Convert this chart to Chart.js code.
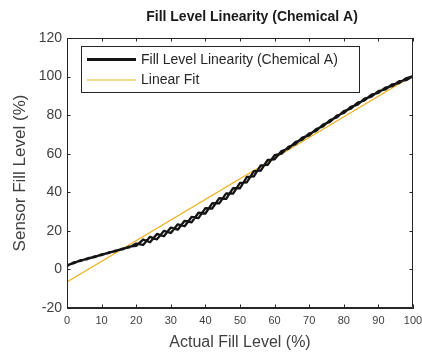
<!DOCTYPE html>
<html>
<head>
<meta charset="utf-8">
<script src="https://cdn.jsdelivr.net/npm/chart.js@4.4.0/dist/chart.umd.min.js"></script>
<style>
  html, body { margin: 0; padding: 0; background: #fff; }
</style>
</head>
<body>
<canvas id="chart" width="422" height="354"></canvas>
<script>
// actual fill level (%) at each sample
const fillLevels = [0, 2, 4, 6, 8, 10, 12, 14, 16, 18, 20, 22, 24, 26, 28, 30, 32, 34, 36, 38, 40,
  42, 44, 46, 48, 50, 52, 54, 56, 58, 60, 62, 64, 66, 68, 70, 72, 74, 76, 78, 80,
  82, 84, 86, 88, 90, 92, 94, 96, 98, 100];
// sensor reading while filling (up sweep)
const sensorFilling = [2.2, 3.3, 4.8, 5.4, 6.8, 7.4, 8.8, 9.4, 10.8, 11.4, 13.4, 12.7, 16.9, 15.6, 20.0, 18.9, 23.4, 22.4, 27.2, 26.6, 31.8,
  31.6, 37.0, 36.6, 42.1, 42.1, 48.0, 48.2, 54.0, 54.2, 59.3, 60.0, 63.6, 65.0, 68.3, 69.5, 72.8, 74.1, 77.5, 78.8, 82.1,
  83.3, 86.5, 87.6, 90.6, 91.5, 94.3, 95.0, 97.6, 98.1, 100.2];
// sensor reading while draining (down sweep)
const sensorDraining = [1.8, 3.7, 4.4, 5.8, 6.4, 7.8, 8.4, 9.8, 10.4, 11.8, 12.2, 15.5, 14.1, 18.4, 17.2, 21.7, 20.6, 25.2, 24.4, 29.4, 29.0,
  34.4, 34.2, 39.4, 39.3, 44.9, 45.2, 51.0, 51.2, 56.8, 57.1, 61.4, 62.6, 66.0, 67.3, 70.5, 71.8, 75.1, 76.5, 79.8, 81.1,
  84.3, 85.5, 88.6, 89.6, 92.5, 93.3, 96.0, 96.6, 99.1, 100.2];
const fitX = [0, 100];
const fitY = [-6.5, 100.5];
const xTicks = [0, 10, 20, 30, 40, 50, 60, 70, 80, 90, 100];
const yTicks = [-20, 0, 20, 40, 60, 80, 100, 120];

const FONT = '"Liberation Sans", Arial, sans-serif';
const AXIS_COLOR = '#262626';
const TEXT_COLOR = '#404040';

// up sweep then back down, so the two passes draw as one loop
const sweepPoints = fillLevels.map((x, i) => ({ x: x, y: sensorFilling[i] }))
  .concat(fillLevels.map((x, i) => ({ x: x, y: sensorDraining[i] })).reverse());
const fitPoints = fitX.map((x, i) => ({ x: x, y: fitY[i] }));

const matlabFrame = {
  id: 'matlabFrame',
  afterDatasetsDraw(chart) {
    const ctx = chart.ctx;
    const a = chart.chartArea;
    const xs = chart.scales.x, ys = chart.scales.y;
    const tick = 3.5;
    ctx.save();
    ctx.strokeStyle = AXIS_COLOR;
    ctx.lineWidth = 1;
    ctx.beginPath();
    ctx.rect(a.left + 0.5, a.top + 0.5, a.right - a.left - 1, a.bottom - a.top - 1);
    xTicks.forEach(v => {
      const px = Math.round(xs.getPixelForValue(v)) + 0.5;
      ctx.moveTo(px, a.bottom); ctx.lineTo(px, a.bottom - tick);
      ctx.moveTo(px, a.top); ctx.lineTo(px, a.top + tick);
    });
    yTicks.forEach(v => {
      const py = Math.round(ys.getPixelForValue(v)) + 0.5;
      ctx.moveTo(a.left, py); ctx.lineTo(a.left + tick, py);
      ctx.moveTo(a.right, py); ctx.lineTo(a.right - tick, py);
    });
    ctx.stroke();

    // legend box in the top left of the axes
    const lx = 81, ly = 46, lw = 278, lh = 46;
    ctx.fillStyle = '#fff';
    ctx.fillRect(lx, ly, lw, lh);
    ctx.strokeRect(lx + 0.5, ly + 0.5, lw, lh);
    const rows = [
      { ds: chart.data.datasets[0], y: ly + 13.5 },
      { ds: chart.data.datasets[1], y: ly + 34 }
    ];
    ctx.font = '14px ' + FONT;
    ctx.textBaseline = 'middle';
    rows.forEach(r => {
      ctx.strokeStyle = r.ds.borderColor;
      ctx.lineWidth = r.ds === chart.data.datasets[0] ? 3 : r.ds.borderWidth;
      ctx.beginPath();
      ctx.moveTo(lx + 6, r.y); ctx.lineTo(lx + 55, r.y);
      ctx.stroke();
      ctx.fillStyle = '#262626';
      ctx.fillText(r.ds.label, lx + 60, r.y + 0.5);
    });

    ctx.font = 'bold 14px ' + FONT;
    ctx.fillStyle = '#1a1a1a';
    ctx.textAlign = 'center';
    ctx.fillText('Fill Level Linearity (Chemical A)', 252, 17);
    ctx.restore();
  }
};

new Chart(document.getElementById('chart'), {
  type: 'line',
  data: {
    datasets: [
      {
        label: 'Fill Level Linearity (Chemical A)',
        data: sweepPoints,
        borderColor: '#141414',
        borderWidth: 2.3,
        pointRadius: 0,
        tension: 0,
        borderJoinStyle: 'round'
      },
      {
        label: 'Linear Fit',
        data: fitPoints,
        borderColor: '#EDB120',
        borderWidth: 1.2,
        pointRadius: 0,
        tension: 0
      }
    ]
  },
  options: {
    responsive: false,
    animation: false,
    layout: { padding: { top: 38, right: 9, left: 0, bottom: 0 } },
    plugins: {
      legend: { display: false },
      title: { display: false },
      tooltip: { enabled: false }
    },
    scales: {
      x: {
        type: 'linear',
        min: 0,
        max: 100,
        afterBuildTicks: s => { s.ticks = xTicks.map(v => ({ value: v })); },
        afterFit: s => { s.height = 46; s.paddingRight = 0; s.paddingLeft = 0; },
        grid: { drawOnChartArea: false, drawTicks: false },
        border: { display: true, color: AXIS_COLOR, width: 1 },
        ticks: { color: TEXT_COLOR, font: { family: FONT, size: 11 }, padding: 6, maxRotation: 0 },
        title: {
          display: true,
          text: 'Actual Fill Level (%)',
          color: TEXT_COLOR,
          font: { family: FONT, size: 16 },
          padding: { top: 0, bottom: 2 }
        }
      },
      y: {
        type: 'linear',
        min: -20,
        max: 120,
        afterBuildTicks: s => { s.ticks = yTicks.map(v => ({ value: v })); },
        afterFit: s => { s.width = 67; s.paddingTop = 0; s.paddingBottom = 0; },
        grid: { drawOnChartArea: false, drawTicks: false },
        border: { display: true, color: AXIS_COLOR, width: 1 },
        ticks: { color: TEXT_COLOR, font: { family: FONT, size: 14 }, padding: 5 },
        title: {
          display: true,
          text: 'Sensor Fill Level (%)',
          color: TEXT_COLOR,
          font: { family: FONT, size: 17 },
          padding: { top: 10, bottom: 0 }
        }
      }
    }
  },
  plugins: [matlabFrame]
});
</script>
</body>
</html>
